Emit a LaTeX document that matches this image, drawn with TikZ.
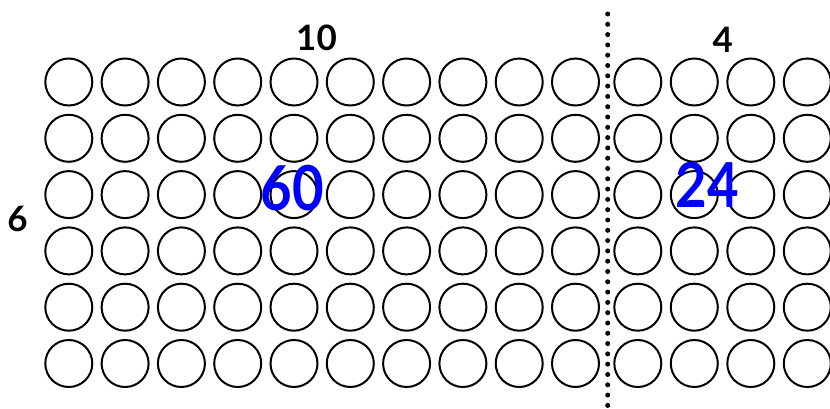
\documentclass[tikz,border=0pt]{standalone}
\usepackage{fontspec}
\setmainfont{Lato}
\usetikzlibrary{positioning}

\begin{document}
\begin{tikzpicture}[
  x=1pt, y=-1pt,
  bead/.style={circle, draw, line width=2pt, minimum size=47pt, inner sep=0pt},
  cut/.style={line width=5pt, line cap=round, dash pattern=on 0pt off 10.3pt},
  dimlbl/.style={font=\fontsize{35}{40}\selectfont\bfseries, inner sep=0pt},
  arealbl/.style={font=\fontsize{62}{70}\selectfont\bfseries, text=blue, inner sep=0pt},
]
\useasboundingbox (0,0) rectangle (830,409);
\clip (0,0) rectangle (830,409);

% --- Bead grid: 6 rows, 10 + 4 columns ---
\foreach \r in {1,...,6}{
  \foreach \c in {1,...,10}
    \node[bead] (l\r-\c) at ({68.8+(\c-1)*56.3},{82+(\r-1)*56.3}) {};
  \foreach \c in {1,...,4}
    \node[bead] (r\r-\c) at ({637.8+(\c-1)*56.5},{82+(\r-1)*56.3}) {};
}

% --- Split line ---
\coordinate (cut-top) at (607.7,14);
\coordinate (cut-bot) at (607.7,407);
\draw[cut] (cut-top) -- (cut-bot);

% --- Side lengths ---
\node[dimlbl] (ten) at (316.5,38) {10};
\node[dimlbl] (four) at (722.7,39.5) {4};
\node[dimlbl] (six) at (17.5,219) {6};

% --- Areas ---
\node[arealbl, xscale=0.88] (sixty) at (292,188) {60};
\node[arealbl, xscale=0.88] (twentyfour) at (707,185) {24};

\end{tikzpicture}
\end{document}
